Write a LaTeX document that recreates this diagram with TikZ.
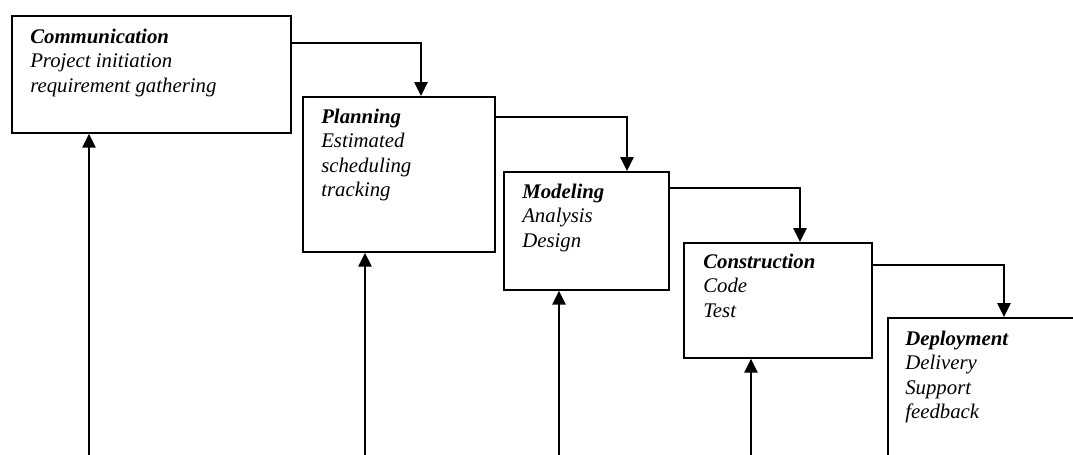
\documentclass[tikz,border=0pt]{standalone}
\usepackage{fontspec}
\setmainfont{Liberation Serif}
\usetikzlibrary{arrows.meta}
\tikzset{
  box/.style={draw=black, line width=1.3pt, rectangle, inner sep=0pt, anchor=north west},
  conn/.style={draw=black, line width=1.3pt, -{Triangle[width=10pt,length=10.5pt]}},
  txt/.style={anchor=base west, inner sep=0pt, font=\fontsize{15.6}{18.4}\selectfont\itshape}
}
\newcommand{\stagetext}[2]{\begin{tabular}[t]{@{}l@{}}\bfseries #1\\#2\end{tabular}}
\begin{document}
\begin{tikzpicture}[x=0.75pt,y=-0.75pt]
\clip (0,0) rectangle (1073,454);
\fill[white] (0,0) rectangle (1073,454);
% boxes
\node[box, minimum width=279*0.75pt, minimum height=117*0.75pt] (comm) at (11,15) {};
\node[box, minimum width=192*0.75pt, minimum height=155*0.75pt] (plan) at (302,96) {};
\node[box, minimum width=165*0.75pt, minimum height=118*0.75pt] (model) at (503,171) {};
\node[box, minimum width=188*0.75pt, minimum height=115*0.75pt] (constr) at (683,242) {};
\node[box, minimum width=220*0.75pt, minimum height=180*0.75pt] (deploy) at (887,317) {};
% texts
\node[txt] (commtxt) at (30,43) {\stagetext{Communication}{Project initiation\\requirement gathering}};
\node[txt] (plantxt) at (321,123) {\stagetext{Planning}{Estimated\\scheduling\\tracking}};
\node[txt] (modeltxt) at (522,198) {\stagetext{Modeling}{Analysis\\Design}};
\node[txt] (constrtxt) at (703,268) {\stagetext{Construction}{Code\\Test}};
\node[txt] (deploytxt) at (905,345) {\stagetext{Deployment}{Delivery\\Support\\feedback}};
% flow connectors
\draw[conn] (comm.east |- 0,43) -| (plan.north west -| 421,0);
\draw[conn] (plan.east |- 0,117) -| (model.north west -| 627,0);
\draw[conn] (model.east |- 0,188) -| (constr.north west -| 800,0);
\draw[conn] (constr.east |- 0,265) -| (deploy.north west -| 1004,0);
% feedback connectors from below
\coordinate (b1) at (89,460);
\coordinate (b2) at (365,460);
\coordinate (b3) at (559,460);
\coordinate (b4) at (751,460);
\draw[conn] (b1) -- (comm.south -| b1);
\draw[conn] (b2) -- (plan.south -| b2);
\draw[conn] (b3) -- (model.south -| b3);
\draw[conn] (b4) -- (constr.south -| b4);
\end{tikzpicture}
\end{document}
